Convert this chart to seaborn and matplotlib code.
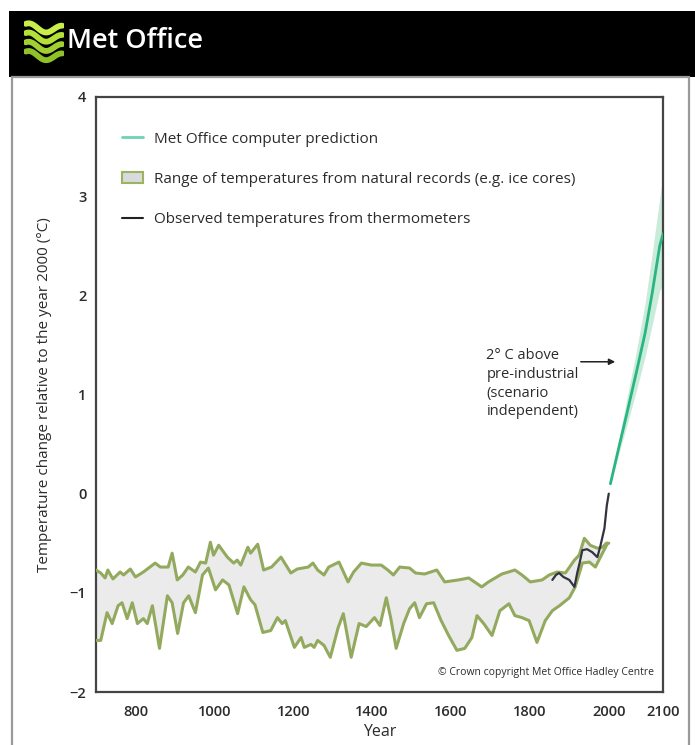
import numpy as np
import pandas as pd
import matplotlib
matplotlib.use("Agg")
import matplotlib.pyplot as plt
import seaborn as sns
from matplotlib.lines import Line2D
from matplotlib.patches import Patch, Rectangle

# ---------------- data ----------------
upper_years = [700, 712, 723, 730, 743, 761, 770, 787, 800, 820, 850, 863, 883, 893, 906, 920, 934, 952,
               965, 978, 990, 998, 1011, 1033, 1049, 1058, 1067, 1085, 1092, 1110, 1125, 1145, 1169, 1194,
               1210, 1238, 1250, 1262, 1278, 1290, 1316, 1339, 1353, 1373, 1398, 1423, 1440, 1454, 1470,
               1495, 1510, 1533, 1564, 1584, 1619, 1645, 1678, 1695, 1729, 1762, 1780, 1801, 1831, 1849,
               1869, 1890, 1913, 1925, 1938, 1953, 1971, 1984, 1994, 2000]
upper_vals = [-0.77, -0.80, -0.85, -0.77, -0.86, -0.79, -0.82, -0.76, -0.84, -0.79, -0.70, -0.74, -0.74,
              -0.60, -0.87, -0.82, -0.74, -0.79, -0.69, -0.70, -0.49, -0.62, -0.52, -0.64, -0.70, -0.67,
              -0.72, -0.54, -0.60, -0.51, -0.77, -0.74, -0.64, -0.80, -0.76, -0.74, -0.70, -0.77, -0.82,
              -0.74, -0.69, -0.89, -0.79, -0.70, -0.72, -0.72, -0.77, -0.82, -0.74, -0.75, -0.80, -0.81,
              -0.77, -0.89, -0.87, -0.85, -0.94, -0.89, -0.81, -0.77, -0.82, -0.89, -0.87, -0.82, -0.79,
              -0.80, -0.67, -0.62, -0.45, -0.52, -0.55, -0.54, -0.50, -0.50]

lower_years = [700, 712, 728, 741, 756, 766, 779, 792, 805, 820, 830, 843, 861, 881, 893, 907, 922, 935,
               952, 970, 985, 1003, 1021, 1037, 1059, 1075, 1092, 1103, 1123, 1143, 1160, 1172, 1180, 1203,
               1220, 1228, 1245, 1253, 1262, 1278, 1294, 1314, 1327, 1347, 1367, 1385, 1406, 1420, 1436,
               1447, 1461, 1480, 1495, 1508, 1520, 1538, 1556, 1575, 1594, 1615, 1635, 1653, 1666, 1683,
               1704, 1724, 1747, 1762, 1780, 1798, 1818, 1839, 1857, 1875, 1900, 1915, 1933, 1951, 1966,
               1984, 1997]
lower_vals = [-1.48, -1.48, -1.20, -1.31, -1.13, -1.10, -1.26, -1.10, -1.31, -1.26, -1.31, -1.13, -1.56,
              -1.03, -1.10, -1.41, -1.10, -1.03, -1.20, -0.82, -0.75, -0.97, -0.87, -0.92, -1.21, -0.94,
              -1.07, -1.12, -1.40, -1.38, -1.25, -1.31, -1.28, -1.55, -1.45, -1.55, -1.52, -1.55, -1.48,
              -1.53, -1.65, -1.35, -1.21, -1.65, -1.31, -1.34, -1.25, -1.33, -1.05, -1.25, -1.56, -1.31,
              -1.16, -1.10, -1.25, -1.11, -1.10, -1.28, -1.43, -1.58, -1.56, -1.45, -1.23, -1.31, -1.43,
              -1.18, -1.11, -1.23, -1.25, -1.28, -1.50, -1.28, -1.18, -1.13, -1.05, -0.94, -0.70, -0.69,
              -0.74, -0.60, -0.50]

obs_years = [1857, 1866, 1874, 1885, 1900, 1913, 1920, 1926, 1933, 1945, 1958, 1971, 1978, 1989, 1995, 2000]
obs_vals = [-0.87, -0.82, -0.80, -0.84, -0.87, -0.94, -0.80, -0.70, -0.57, -0.56, -0.59, -0.64, -0.54,
            -0.35, -0.12, 0.00]

pred_years = [2003, 2020, 2033, 2052, 2067, 2080, 2094, 2100]
pred_vals = [0.10, 0.50, 0.80, 1.25, 1.62, 2.02, 2.50, 2.62]
pred_upper = [0.12, 0.58, 0.95, 1.47, 1.92, 2.42, 2.98, 3.22]
pred_lower = [0.08, 0.43, 0.68, 1.06, 1.38, 1.70, 2.05, 2.10]

x_ticks = [800, 1000, 1200, 1400, 1600, 1800, 2000, 2100]
y_ticks = [-2, -1, 0, 1, 2, 3, 4]

legend_labels = ["Met Office computer prediction",
                 "Range of temperatures from natural records (e.g. ice cores)",
                 "Observed temperatures from thermometers"]
annotation_text = "2° C above\npre-industrial\n(scenario\nindependent)"

# ---------------- style ----------------
sns.set_theme(style="white")
plt.rcParams["font.family"] = ["Open Sans", "DejaVu Sans"]
TXT = "#2b2b2b"
OLIVE = "#93aa5e"
BAND = "#ebebec"
PRED = "#2bb583"

W, H = 695, 745
fig = plt.figure(figsize=(W / 100, H / 100), dpi=100)

def fx(px):
    return px / W

def fy(py):
    return 1 - py / H

# header bar + frame (decoration)
fig.patches.append(Rectangle((fx(9), fy(77)), fx(695 - 9), (77 - 11) / H,
                             transform=fig.transFigure, facecolor="black", edgecolor="none", zorder=-5))
fig.patches.append(Rectangle((fx(12), fy(745) - 0.01), fx(689 - 12), (745 - 77) / H + 0.01,
                             transform=fig.transFigure, facecolor="none", edgecolor="#9a9a9a",
                             linewidth=1.6, zorder=-5))
fig.text(fx(67), fy(41), "Met Office", color="white", fontsize=19.5, fontweight="semibold",
         va="center", ha="left", family=["Open Sans", "DejaVu Sans"])

# logo waves
lax = fig.add_axes([fx(24), fy(64), fx(40), (64 - 20) / H], zorder=5)
lax.set_axis_off()
lax.patch.set_alpha(0)
t = np.linspace(0, 1, 60)
for k, off in enumerate([0.84, 0.63, 0.42, 0.21]):
    lax.plot(t, off + 0.09 * np.sin(2 * np.pi * (t * 1.1 + 0.15)) - 0.06 * t,
             color=["#c8ee4a", "#b4e03a", "#a2d030", "#8fc128"][k], lw=4.2, solid_capstyle="round")
lax.set_xlim(-0.05, 1.05)
lax.set_ylim(0, 1)

# ---------------- main axes ----------------
ax = fig.add_axes([fx(96), fy(692), fx(663 - 96), (692 - 97) / H])

def fwd(x):
    x = np.asarray(x, dtype=float)
    return np.where(x <= 2000, x, 2000 + (x - 2000) * 1.375)

def inv(x):
    x = np.asarray(x, dtype=float)
    return np.where(x <= 2000, x, 2000 + (x - 2000) / 1.375)

ax.set_xscale("function", functions=(fwd, inv))

# natural records band
ax.fill(np.concatenate([upper_years, lower_years[::-1]]),
        np.concatenate([upper_vals, lower_vals[::-1]]),
        facecolor=BAND, edgecolor="none", zorder=1)
up_df = pd.DataFrame({"year": upper_years, "val": upper_vals})
lo_df = pd.DataFrame({"year": lower_years, "val": lower_vals})
sns.lineplot(data=up_df, x="year", y="val", ax=ax, color=OLIVE, lw=2.2, zorder=3, sort=False)
sns.lineplot(data=lo_df, x="year", y="val", ax=ax, color=OLIVE, lw=2.2, zorder=3, sort=False)

# prediction
ax.fill_between(pred_years, pred_lower, pred_upper, color="#c4ead6", alpha=0.9, lw=0, zorder=2)
pr_df = pd.DataFrame({"year": pred_years, "val": pred_vals})
sns.lineplot(data=pr_df, x="year", y="val", ax=ax, color=PRED, lw=2.0, zorder=4)

# observed
ob_df = pd.DataFrame({"year": obs_years, "val": obs_vals})
sns.lineplot(data=ob_df, x="year", y="val", ax=ax, color="#333340", lw=1.6, zorder=5)

ax.set_xlim(700, 2100)
ax.set_ylim(-2, 4)
ax.set_xticks(x_ticks)
ax.set_xticklabels([str(v) for v in x_ticks])
ax.set_yticks(y_ticks)
ax.set_yticklabels(["\u22122" if v == -2 else ("\u22121" if v == -1 else str(v)) for v in y_ticks])
ax.set_yticks(np.arange(-1.5, 4, 1.0), minor=True)
ax.tick_params(axis="both", which="both", direction="in", length=7, width=1, color="#888888",
               labelsize=10.5, labelcolor=TXT)
ax.tick_params(axis="x", pad=9)
ax.tick_params(axis="y", pad=7)
for lab in ax.get_xticklabels() + ax.get_yticklabels():
    lab.set_fontweight("semibold")
for s in ax.spines.values():
    s.set_color("#444444")
    s.set_linewidth(1.6)

ax.set_xlabel("Year", fontsize=11.5, color=TXT)
ax.set_ylabel("Temperature change relative to the year 2000 (°C)", fontsize=11, color=TXT)
ax.xaxis.set_label_coords(0.5, -0.053)
ax.yaxis.set_label_coords(-0.078, 0.5)

# legend
handles = [Line2D([], [], color="#6dd3b5", lw=2),
           Patch(facecolor="#d8dade", edgecolor="#9db45f", lw=1.5),
           Line2D([], [], color="#222222", lw=1.5)]
leg = ax.legend(handles, legend_labels, loc="upper left", bbox_to_anchor=(0.035, 0.952),
                frameon=False, fontsize=11, labelspacing=1.65, handlelength=1.4,
                handletextpad=0.7, borderaxespad=0)
for txt in leg.get_texts():
    txt.set_color(TXT)

# annotation
ax.annotate("", xy=(2017, 1.33), xytext=(1922, 1.33),
            arrowprops=dict(arrowstyle="-|>", color="#222222", lw=1.1, mutation_scale=9))
ax.text(1690, 1.47, annotation_text, fontsize=10.5, color=TXT, va="top", ha="left",
        linespacing=1.35)
ax.text(0.985, 0.024, "© Crown copyright Met Office Hadley Centre", transform=ax.transAxes,
        fontsize=7.5, color=TXT, ha="right", va="bottom")

fig.savefig("out.png", dpi=100)
